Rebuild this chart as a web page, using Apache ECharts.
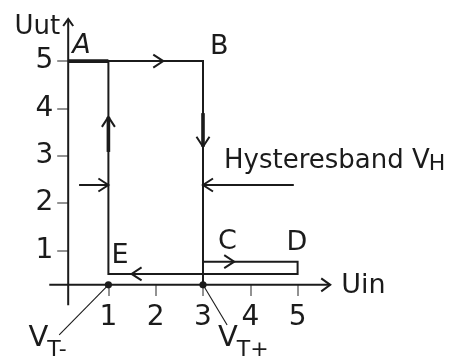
<!DOCTYPE html>
<html>
<head>
<meta charset="utf-8">
<script src="https://cdn.jsdelivr.net/npm/echarts@6/dist/echarts.min.js"></script>
<style>
html, body { margin: 0; background: #fff; }
#main { width: 457px; height: 356px; }
</style>
</head>
<body>
<div id="main"></div>
<script>
/** tick values **/
var xTicks = [1, 2, 3, 4, 5];
var yTicks = [1, 2, 3, 4, 5];

/** levels of the Schmitt trigger **/
var uHigh = 5, uLow = 0.5, uLowC = 0.76;
var vtMinus = 1, vtPlus = 3, uinMax = 5;
var axisX0 = 0.15, axisY0 = 0.27;   // where the drawn axes cross

/** loop outline **/
var outline = [
	[[axisX0, uHigh], [vtPlus, uHigh], [vtPlus, axisY0]],
	[[vtMinus, uHigh], [vtMinus, uLow], [uinMax, uLow], [uinMax, uLowC], [vtPlus, uLowC]]
];
var thickParts = [
	[[axisX0, uHigh], [vtMinus, uHigh]],
	[[vtMinus, 3.08], [vtMinus, 3.82]],
	[[vtPlus, 3.9], [vtPlus, 3.19]]
];
/** arrow heads: x, y, direction **/
var arrowHeads = [
	[2.16, uHigh, 'right'],
	[vtPlus, 3.19, 'down'],
	[vtMinus, 3.82, 'up'],
	[1.49, uLow, 'left'],
	[3.66, uLowC, 'right']
];
var bandY = 2.38, bandLeft = 0.38, bandRight = 4.92;

var ink = '#1b1b1b';
var font = 'DejaVu Sans';

var chart = echarts.init(document.getElementById('main'));

// width of a string, to put subscripts right after their letter
var measureCtx = document.createElement('canvas').getContext('2d');
function textWidth(str, size) {
	measureCtx.font = size + 'px "' + font + '"';
	return measureCtx.measureText(str).width;
}

function renderItem(params, api) {
	var kids = [];
	function c(p) { return api.coord(p); }
	function poly(pts, w) {
		kids.push({ type: 'polyline', shape: { points: pts.map(c) },
			style: { stroke: ink, lineWidth: w, fill: null } });
	}
	function line(a, b, w) {
		var p = c(a), q = c(b);
		kids.push({ type: 'line', shape: { x1: p[0], y1: p[1], x2: q[0], y2: q[1] },
			style: { stroke: ink, lineWidth: w } });
	}
	function chevron(x, y, dir, len, spread) {
		var p = c([x, y]);
		var d = { right: [1, 0], left: [-1, 0], up: [0, -1], down: [0, 1] }[dir];
		var bx = p[0] - d[0] * len, by = p[1] - d[1] * len;
		var nx = -d[1] * spread, ny = d[0] * spread;
		kids.push({ type: 'polyline', shape: { points: [[bx + nx, by + ny], p, [bx - nx, by - ny]] },
			style: { stroke: ink, lineWidth: 2, fill: null } });
	}
	function text(str, at, dx, dy, size, align, italic) {
		var p = c(at);
		kids.push({ type: 'text', x: p[0] + dx, y: p[1] + dy,
			style: { text: str, fontSize: size, fontFamily: font, fill: ink,
				fontStyle: italic ? 'italic' : 'normal',
				align: align || 'left', verticalAlign: 'middle' } });
	}
	// main text with a subscript following it
	function subText(str, sub, at, dx, dy, size, subSize, subDy) {
		text(str, at, dx, dy, size);
		text(sub, at, dx + textWidth(str, size) - 1, dy + subDy, subSize);
	}

	// axes
	line([-0.25, axisY0], [5.69, axisY0], 2);
	chevron(5.69, axisY0, 'right', 9, 6.5);
	line([axisX0, -0.16], [axisX0, 5.89], 2);
	chevron(axisX0, 5.89, 'up', 7, 5);

	outline.forEach(function (o) { poly(o, 2); });
	thickParts.forEach(function (o) { poly(o, 3.6); });
	arrowHeads.forEach(function (a) { chevron(a[0], a[1], a[2], 10, 6.5); });

	// Hysteresband markers
	line([bandLeft, bandY], [vtMinus, bandY], 2);
	chevron(vtMinus, bandY, 'right', 10, 6.5);
	line([bandRight, bandY], [vtPlus, bandY], 2);
	chevron(vtPlus, bandY, 'left', 10, 6.5);

	// threshold dots and leader lines
	[vtMinus, vtPlus].forEach(function (v) {
		var p = c([v, axisY0]);
		kids.push({ type: 'circle', shape: { cx: p[0], cy: p[1], r: 3.6 }, style: { fill: ink } });
	});
	line([vtMinus, axisY0], [-0.04, -0.79], 1.1);
	line([vtPlus, axisY0], [3.51, -0.58], 1.1);

	// labels
	text('Uut', [axisX0, 5.89], -8, 8, 26, 'right');
	text('Uin', [5.69, axisY0], 11, 1, 27);
	text('A', [axisX0, uHigh], 4, -15, 27, 'left', true);
	text('B', [vtPlus, uHigh], 7, -14, 27);
	text('C', [vtPlus, uLowC], 15, -20, 27);
	text('D', [uinMax, uLowC], -11, -19, 27);
	text('E', [vtMinus, uLow], 3, -18, 27);
	subText('Hysteresband V', 'H', [vtPlus, bandY], 21, -24, 26, 22, 3);
	subText('V', 'T-', [vtMinus, axisY0], -80, 54, 29, 22, 11);
	subText('V', 'T+', [vtPlus, axisY0], 15, 54, 29, 22, 11);

	return { type: 'group', children: kids };
}

var option = {
	animation: false,
	grid: { left: 13.8, right: 64.8, top: 13.8, bottom: 11.1 },
	xAxis: {
		type: 'value', min: -1, max: 7, interval: 1,
		offset: -59.9,
		axisLine: { show: false, onZero: false },
		splitLine: { show: false },
		axisTick: { show: true, length: 11, customValues: xTicks,
			lineStyle: { color: '#777', width: 1.6 } },
		axisLabel: { customValues: xTicks, margin: 19, fontSize: 28, fontFamily: font, color: ink }
	},
	yAxis: {
		type: 'value', min: -1, max: 6, interval: 1,
		offset: -54.4,
		axisLine: { show: false, onZero: false },
		splitLine: { show: false },
		axisTick: { show: true, length: 11, customValues: yTicks,
			lineStyle: { color: '#777', width: 1.6 } },
		axisLabel: { customValues: yTicks, margin: 15, fontSize: 28, fontFamily: font, color: ink }
	},
	series: [{
		type: 'custom',
		coordinateSystem: 'cartesian2d',
		renderItem: renderItem,
		clip: false,
		silent: true,
		data: [[0, 0]]
	}]
};
chart.setOption(option);
</script>
</body>
</html>
